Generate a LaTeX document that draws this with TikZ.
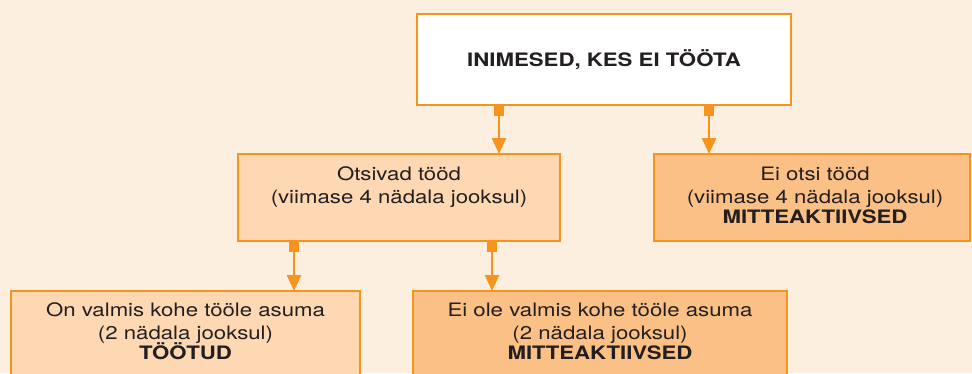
\documentclass[tikz,border=0pt]{standalone}
\usepackage{fontspec}
\setmainfont{TeX Gyre Heros}[FakeStretch=1.2]
\usetikzlibrary{arrows.meta}
\definecolor{bg}{RGB}{253,239,224}
\definecolor{org}{RGB}{247,148,29}
\definecolor{lightfill}{RGB}{253,216,178}
\definecolor{darkfill}{RGB}{251,192,134}
\definecolor{txt}{RGB}{35,31,32}
\begin{document}
\begin{tikzpicture}[x=1pt,y=-1pt,
  box/.style={draw=org, line width=2pt, inner sep=0pt, outer sep=0pt,
    text=txt, align=center, font=\fontsize{18.5}{22.6}\selectfont},
  lbl/.style={draw=none, text=txt, align=center, inner sep=0pt,
    font=\fontsize{18.5}{22.6}\selectfont, anchor=base},
  conn/.style={draw=org, line width=2.4pt,
    {Square[length=10.5pt,width=10.5pt]}-{Triangle[length=16pt,width=14pt]}}]
\useasboundingbox (0,0) rectangle (972,373);
\fill[bg] (0,0) rectangle (972,373);
\clip (0,0) rectangle (972,373);

\node[box, fill=white, minimum width=374pt, minimum height=91pt]
  (top) at (604,59.5) {\bfseries INIMESED, KES EI TÖÖTA};

\node[box, fill=lightfill, minimum width=322pt, minimum height=87pt]
  (ml) at (399,197.5) {};
\node[box, fill=darkfill, minimum width=316pt, minimum height=87pt]
  (mr) at (812,197.5) {};
\node[box, fill=lightfill, minimum width=349pt, minimum height=87pt]
  (bl) at (185.5,334.5) {};
\node[box, fill=darkfill, minimum width=374pt, minimum height=87pt]
  (br) at (600,334.5) {};

\node[lbl] (mlt) at ([yshift=-49.3pt]ml.north) {Otsivad tööd\\(viimase 4 nädala jooksul)};
\node[lbl] (mrt) at ([xshift=3pt,yshift=-69.3pt]mr.north) {Ei otsi tööd\\(viimase 4 nädala jooksul)\\[-2.6pt]\bfseries MITTEAKTIIVSED};
\node[lbl] (blt) at ([yshift=-68pt]bl.north) {On valmis kohe tööle asuma\\(2 nädala jooksul)\\[-2.6pt]\bfseries TÖÖTUD};
\node[lbl] (brt) at ([yshift=-68pt]br.north) {Ei ole valmis kohe tööle asuma\\(2 nädala jooksul)\\[-2.6pt]\bfseries MITTEAKTIIVSED};

\coordinate (c1) at (499,0);
\coordinate (c2) at (709,0);
\coordinate (c3) at (294,0);
\coordinate (c4) at (492,0);
\draw[conn] (top.south -| c1) -- (ml.north -| c1);
\draw[conn] (top.south -| c2) -- (mr.north -| c2);
\draw[conn] (ml.south -| c3) -- (bl.north -| c3);
\draw[conn] (ml.south -| c4) -- (br.north -| c4);
\end{tikzpicture}
\end{document}
